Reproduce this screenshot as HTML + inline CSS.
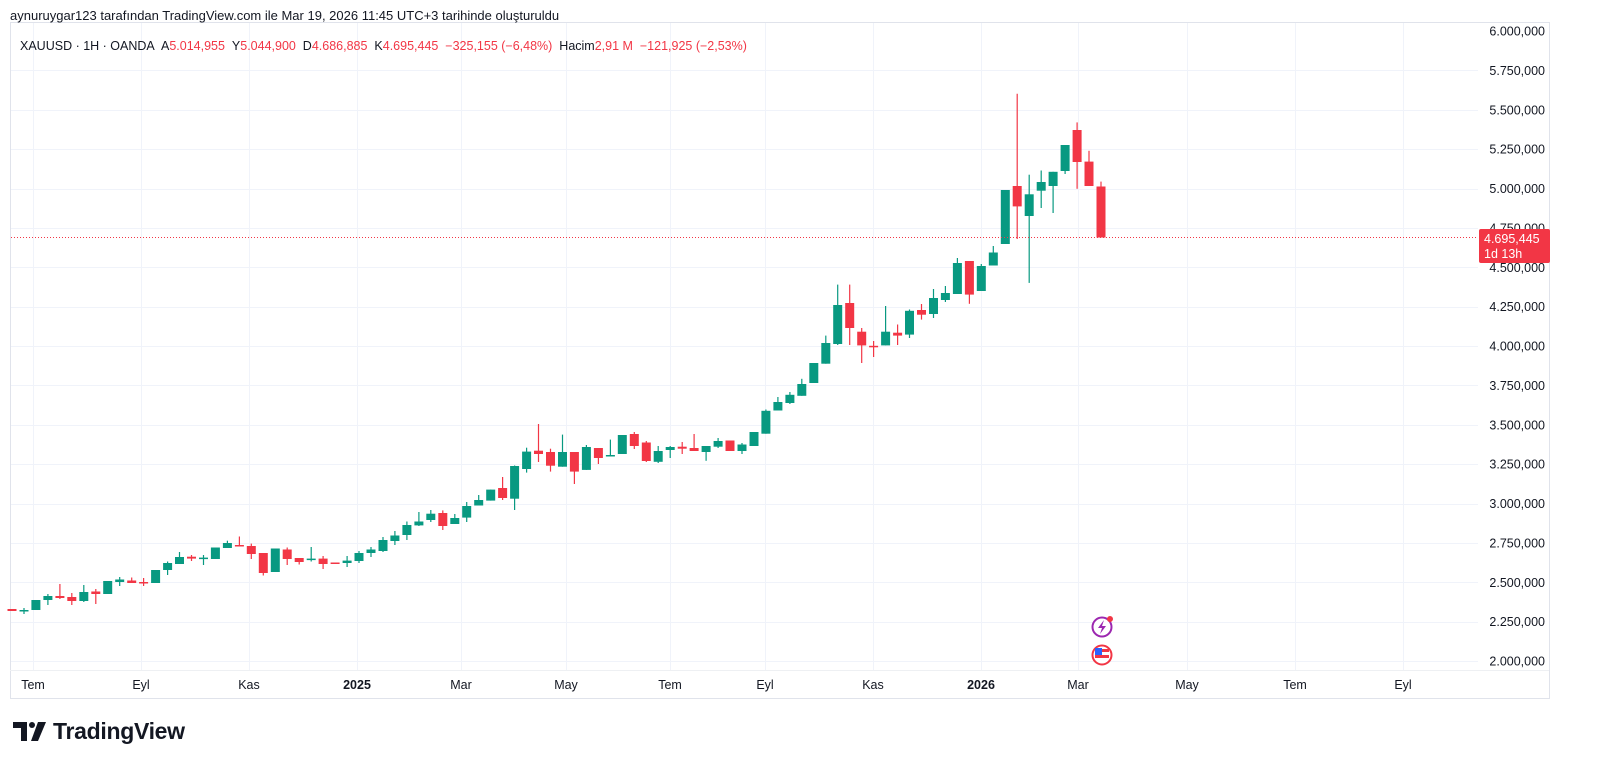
<!DOCTYPE html>
<html><head><meta charset="utf-8">
<style>
html,body{margin:0;padding:0;background:#fff;}
body{width:1600px;height:780px;overflow:hidden;position:relative;font-family:"Liberation Sans","DejaVu Sans",sans-serif;}
.top{position:absolute;left:10px;top:8px;font-size:13px;color:#131722;}
.leg{position:absolute;left:20px;top:39px;font-size:12.5px;color:#131722;white-space:nowrap;}
.leg .r{color:#f23645;}
.logo{position:absolute;left:53px;top:718px;font-size:23px;font-weight:bold;color:#131722;letter-spacing:-0.3px;}
svg{position:absolute;left:0;top:0;}
</style></head><body>
<svg id="s" width="1600" height="780" xmlns="http://www.w3.org/2000/svg"></svg>
<div class="top">aynuruygar123 tarafından TradingView.com ile Mar 19, 2026 11:45 UTC+3 tarihinde oluşturuldu</div>
<div class="leg">XAUUSD · 1H · OANDA &nbsp;A<span class="r">5.014,955</span> &nbsp;Y<span class="r">5.044,900</span> &nbsp;D<span class="r">4.686,885</span> &nbsp;K<span class="r">4.695,445 &nbsp;−325,155 (−6,48%)</span> &nbsp;Hacim<span class="r">2,91 M &nbsp;−121,925 (−2,53%)</span></div>
<div class="logo">TradingView</div>
<script>
var D=[
[0,609,611,609,611],[1,610,611,608,614],[1,600,610,600,610],[1,596,600,594,605],[0,596,598,584,599],
[0,597,601,593,605],[1,592,601,585,602],[0,591.5,594,589,604],[1,581,594,581,594],[1,579.5,582,577,586],
[0,580.5,583,577.5,583],[0,582,583,578,586],[1,570,583,570,583],[1,563,570,561.5,575],[1,557,564,552,564],
[0,556.7,558.6,555,561],[1,557.6,559,555,565],[1,547.5,559,547.5,559],[1,543,548,540.7,548],[0,545,546,536.5,546],
[0,546,554,543.6,559],[0,553,573,553,575.5],[1,548.5,572,548.5,572],[0,549.5,559,547.5,565],[0,558,562,558,564.5],
[1,558.6,560,547,561.5],[0,558.6,564,556,569],[0,562.5,564,562.5,564],[1,560.6,563,556,567],[1,553,561,551,563],
[1,549.5,553,547,557],[1,540,551,537,552],[1,535.5,541,531,545],[1,525,535,521.5,540],[1,521.5,525.4,512,526],
[1,513.7,520,510,522],[0,513,526,510.4,530],[1,518,524,514,524],[1,506,517.6,502,522],[1,500,505.5,495,505.5],
[1,489.6,500.6,489.6,500.6],[0,488,498,477,500],[1,466,498.7,465.5,510],[1,451.6,469,447.7,472.6],[0,450.7,454,424,462],
[0,452,465.7,448.7,471.6],[1,452,466.7,434.6,466.7],[0,452,471.6,452,484],[1,447,469.9,445,469.9],[0,448,458,448,464],
[1,455,456,439.6,456],[1,435,454,435,454],[0,434,446,432,449],[0,442.5,461,441,462],[1,451,461.8,446,463],
[1,447,450,446,458],[0,446.7,448.7,442,454],[0,448,451,434,451],[1,446,452,446,460.8],[1,441,446.7,438,448],
[0,440.5,451,440.5,451],[1,444.5,451,443,454],[1,432,446,432,446],[1,410.8,433.7,409.5,433.7],[1,402,410.5,397,410.5],
[1,394.8,403,392,404],[1,384,395.8,378.8,395.8],[1,363,383,363,383],[1,343,363.7,335.6,363.7],[1,305,344,284.6,345],
[0,303,328,284.6,345],[0,331.7,345.4,328,363],[0,345.8,347,341,357],[1,331.7,345.4,306,345.4],[0,332.7,335.6,324.5,345],
[1,310.8,334.6,309.5,338],[0,310,314.7,304,319.6],[1,298,314,289,318],[1,293,300,286,302],[1,263,294,258,294],
[0,261,294.6,261,303.8],[1,266,291,264,291],[1,252.5,265.5,246,265.5],[1,190,244,190,244],[0,186,206.4,93.7,239],
[1,194.3,216,174.7,282.9],[1,182,190.7,170.5,208],[1,171.8,186,171.8,213],[1,145,171,145,174],[0,130,162,122.4,188.8],
[0,161.6,186,150.8,186],[0,186.5,237.5,181.6,237.5]];
var s='';
s+='<rect x="10.5" y="22.5" width="1539" height="676" fill="none" stroke="#e0e3eb"/>';
s+='<line x1="10" y1="670.5" x2="1549" y2="670.5" stroke="#eef0f3"/>';
var labs=['6.000,000','5.750,000','5.500,000','5.250,000','5.000,000','4.750,000','4.500,000','4.250,000','4.000,000','3.750,000','3.500,000','3.250,000','3.000,000','2.750,000','2.500,000','2.250,000','2.000,000'];
for(var k=0;k<17;k++){var y=31+k*39.375;
 if(k>0) s+='<line x1="11" y1="'+(Math.round(y)+0.5)+'" x2="1478" y2="'+(Math.round(y)+0.5)+'" stroke="#f0f3fa"/>';
 s+='<text x="1545" y="'+(y+4.5)+'" text-anchor="end" font-size="12.5" fill="#131722" font-family="Liberation Sans,sans-serif">'+labs[k]+'</text>';}
var T=[[33,'Tem'],[141,'Eyl'],[249,'Kas'],[357,'2025',1],[461,'Mar'],[566,'May'],[670,'Tem'],[765,'Eyl'],[873,'Kas'],[981,'2026',1],[1078,'Mar'],[1187,'May'],[1295,'Tem'],[1403,'Eyl']];
T.forEach(function(t){s+='<line x1="'+(t[0]+0.5)+'" y1="23" x2="'+(t[0]+0.5)+'" y2="670" stroke="#f0f3fa"/>';
 s+='<text x="'+t[0]+'" y="689" text-anchor="middle" font-size="12.5" fill="#131722" '+(t[2]?'font-weight="bold"':'')+' font-family="Liberation Sans,sans-serif">'+t[1]+'</text>';});
D.forEach(function(d,i){var x=12+i*11.967;var c=d[0]?'#089981':'#f23645';
 s+='<line x1="'+x.toFixed(1)+'" y1="'+d[3]+'" x2="'+x.toFixed(1)+'" y2="'+d[4]+'" stroke="'+c+'" stroke-width="1.2"/>';
 var h=Math.max(d[2]-d[1],1.5);
 s+='<rect x="'+(x-4.5).toFixed(1)+'" y="'+d[1]+'" width="9" height="'+h.toFixed(1)+'" fill="'+c+'"/>';});
s+='<line x1="11" y1="237.5" x2="1478" y2="237.5" stroke="#f23645" stroke-width="1" stroke-dasharray="1,2"/>';
s+='<rect x="1479" y="229" width="71" height="34" rx="2" fill="#f23645"/>';
s+='<text x="1484" y="243" font-size="12.5" fill="#fff" font-family="Liberation Sans,sans-serif">4.695,445</text>';
s+='<text x="1484" y="258" font-size="12.5" fill="#fff" font-family="Liberation Sans,sans-serif">1d 13h</text>';
s+='<circle cx="1102" cy="627" r="9.5" fill="#fff" stroke="#9c27b0" stroke-width="2"/>';
s+='<path d="M1104 620 L1098 628 L1102 628 L1100 634 L1106 626 L1102 626 Z" fill="#9c27b0"/>';
s+='<circle cx="1110" cy="619" r="3" fill="#f23645"/>';
s+='<circle cx="1102" cy="655" r="9.5" fill="#fff" stroke="#f23645" stroke-width="2"/>';
s+='<rect x="1095" y="649" width="14" height="3" fill="#f23645"/><rect x="1095" y="655" width="14" height="3" fill="#f23645"/>';
s+='<rect x="1095" y="648" width="7" height="7" fill="#2962ff"/>';
// logo mark
s+='<path d="M13 722 H27 V741 H21 V728 H13 Z" fill="#131722"/><circle cx="32" cy="725" r="3" fill="#131722"/><path d="M38 722 H46 L38 741 H31 Z" fill="#131722"/>';
document.getElementById('s').innerHTML=s;
</script>
</body></html>
